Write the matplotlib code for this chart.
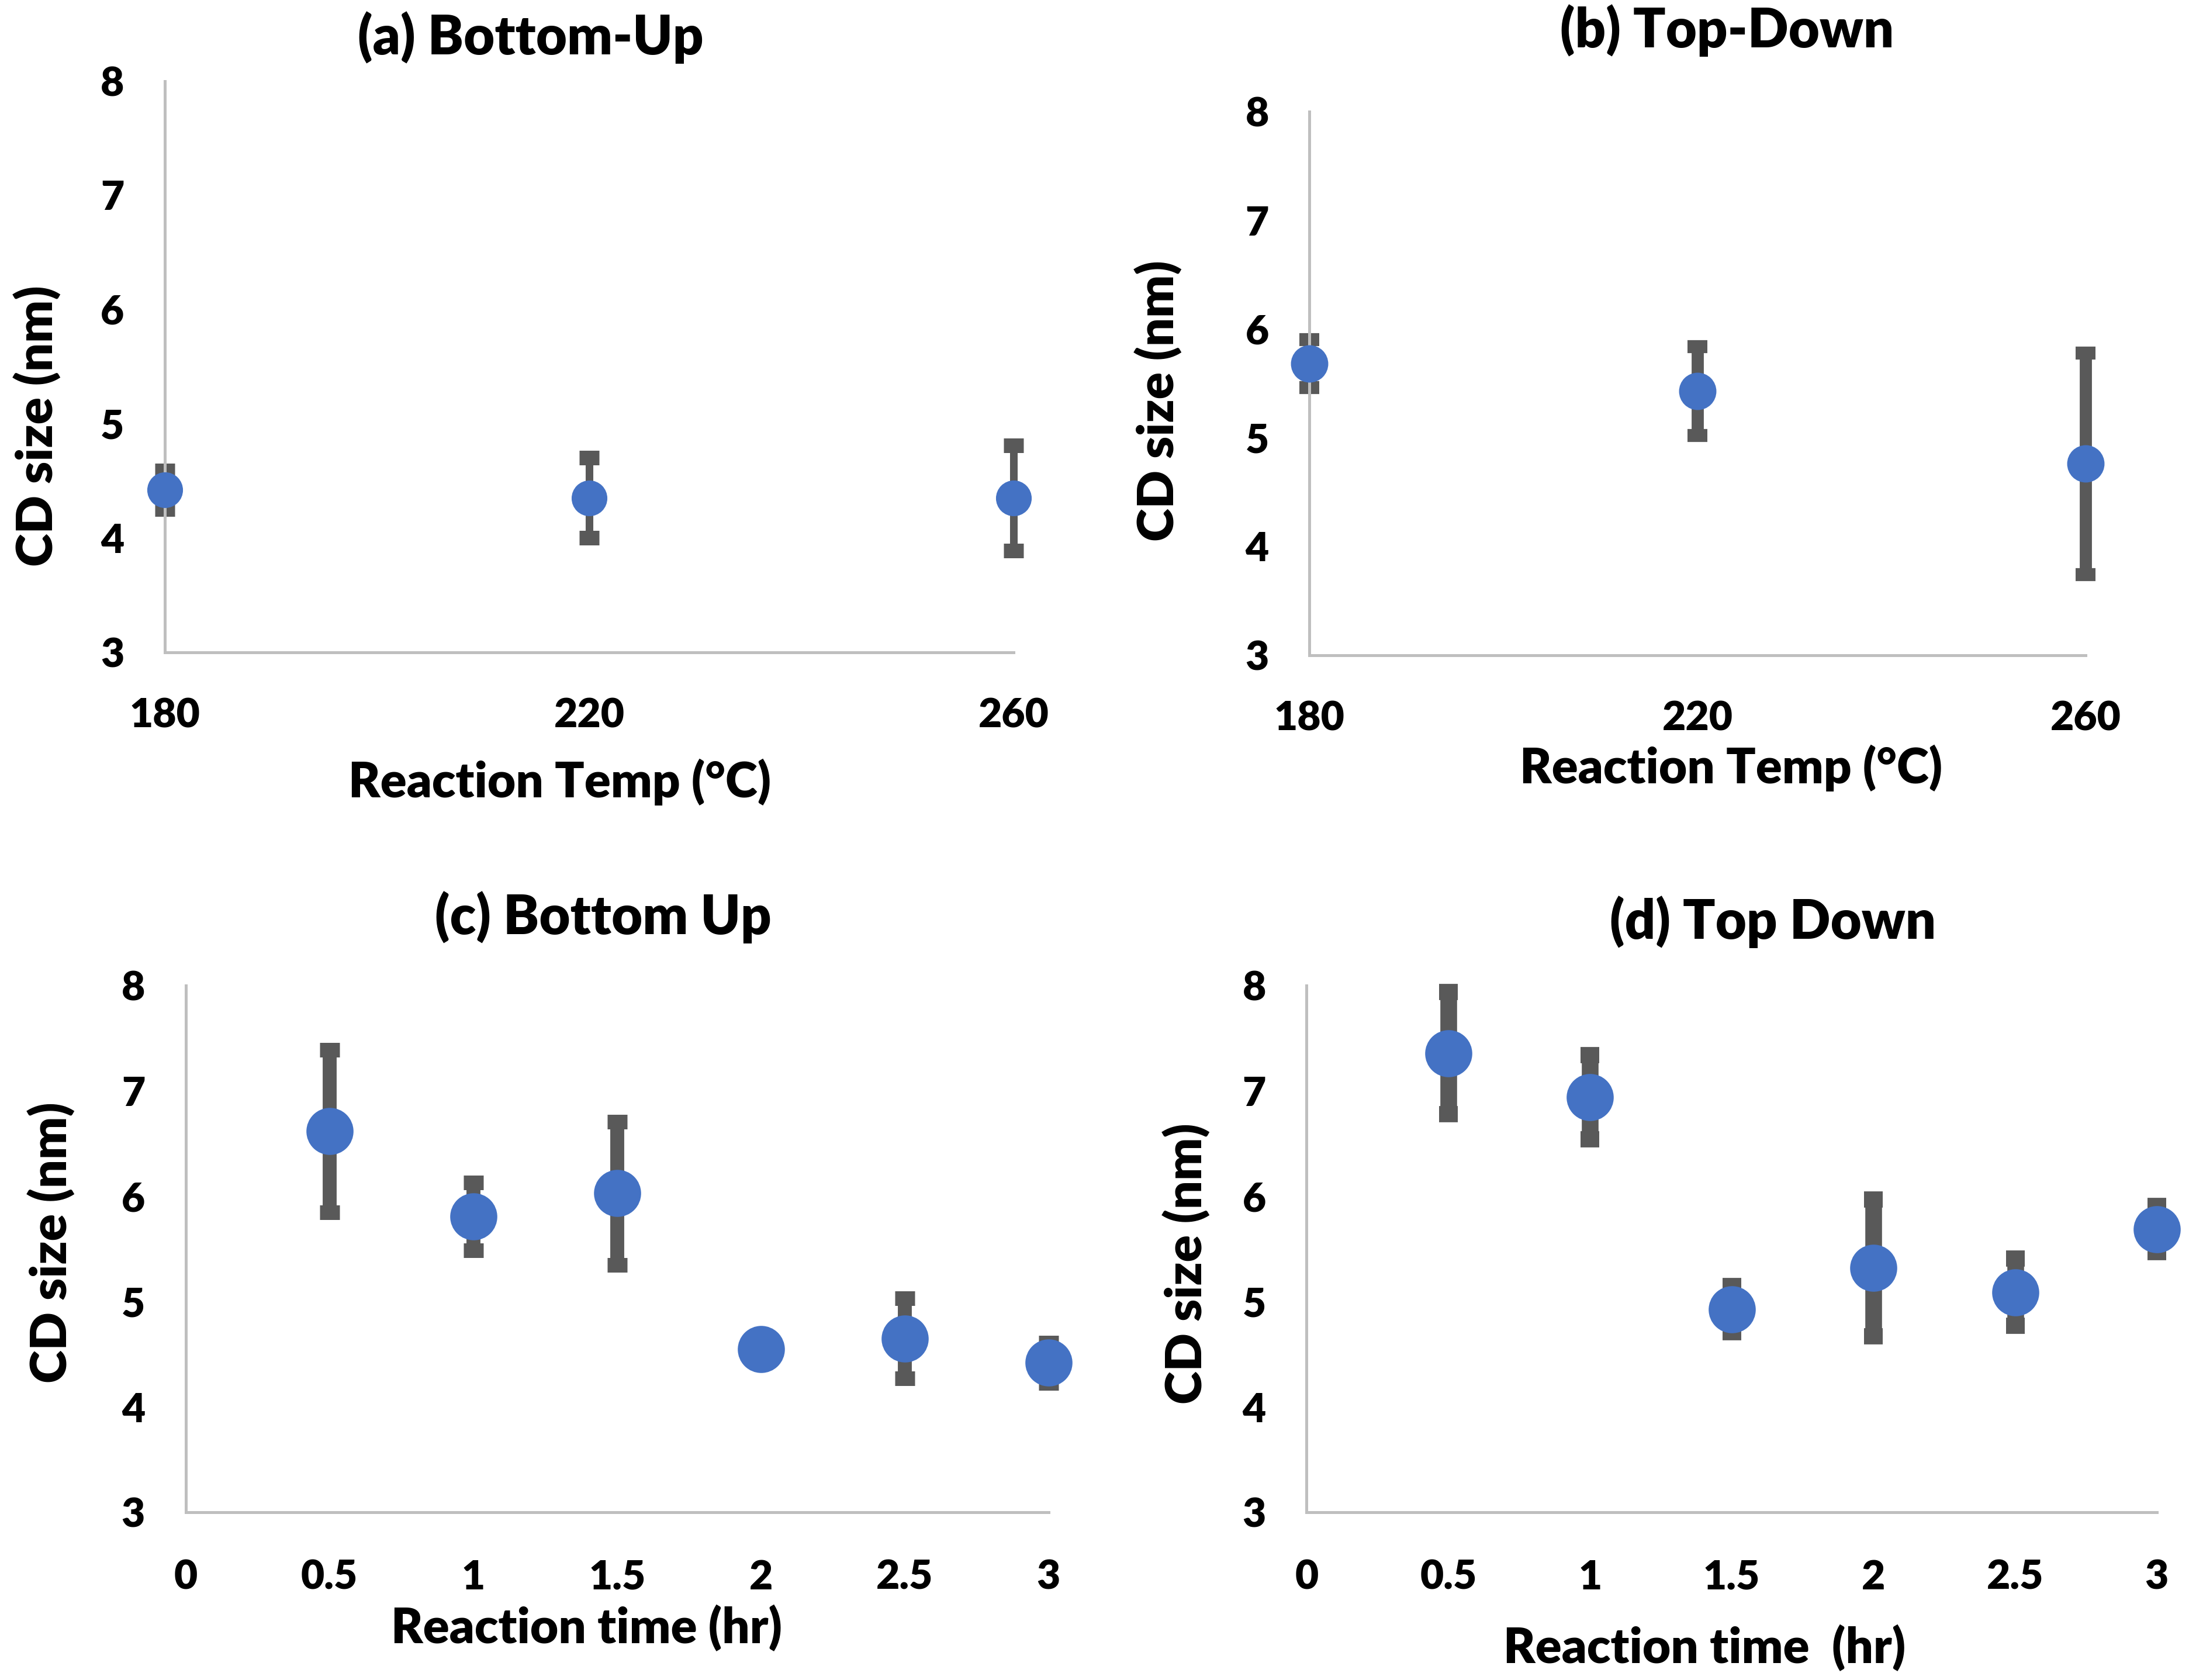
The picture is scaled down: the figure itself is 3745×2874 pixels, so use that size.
import matplotlib
matplotlib.use("Agg")
import matplotlib.pyplot as plt

plt.rcParams['font.family'] = ['Lato', 'DejaVu Sans']
plt.rcParams['font.weight'] = 'bold'

# ---------------- data ----------------
temp_x = [180, 220, 260]
bu_temp_size = [4.42, 4.35, 4.35]
bu_temp_err = [0.17, 0.35, 0.46]
td_temp_size = [5.68, 5.43, 4.76]
td_temp_err = [0.22, 0.41, 1.02]

time_x = [0.5, 1, 1.5, 2, 2.5, 3]
bu_time_size = [6.62, 5.81, 6.03, 4.55, 4.65, 4.42]
bu_time_err = [0.77, 0.32, 0.68, 0.12, 0.38, 0.19]
td_time_size = [7.36, 6.94, 4.93, 5.32, 5.09, 5.69]
td_time_err = [0.58, 0.40, 0.22, 0.65, 0.32, 0.22]

temp_ticks = [180, 220, 260]
time_ticks = [0, 0.5, 1, 1.5, 2, 2.5, 3]
time_ticklabels = ['0', '0.5', '1', '1.5', '2', '2.5', '3']
y_ticks = [3, 4, 5, 6, 7, 8]

titles = ['(a) Bottom-Up', '(b) Top-Down', '(c) Bottom Up', '(d) Top Down']
xlabels = ['Reaction Temp (°C)', 'Reaction Temp (°C)', 'Reaction time (hr)', 'Reaction time  (hr)']
ylabel = 'CD size (nm)'

# ---------------- style ----------------
W, H = 3745, 2874
DPI = 200
fig = plt.figure(figsize=(W / DPI, H / DPI), dpi=DPI)
fig.patch.set_facecolor('white')

blue = '#4472C4'
gray = '#595959'
spine_c = '#BFBFBF'

rects = [
    (0.0753, 0.6118, 0.3878, 0.3400),
    (0.5982, 0.6101, 0.3546, 0.3234),
    (0.0848, 0.0998, 0.3942, 0.3134),
    (0.5969, 0.0998, 0.3884, 0.3134),
]
title_pos = [(0.2423, 0.9776), (0.7889, 0.9817), (0.2755, 0.4539), (0.8099, 0.4514)]
xlabel_pos = [(0.2557, 0.5345), (0.7908, 0.5428), (0.2679, 0.0308), (0.7787, 0.0191)]
ylabel_pos = [(0.0172, 0.7465), (0.5293, 0.7614), (0.0236, 0.2602), (0.5421, 0.2477)]

styles = [
    dict(ms=21, elw=4.7, cs=6, ct=9),
    dict(ms=22, elw=7.5, cs=6, ct=8),
    dict(ms=28, elw=8.6, cs=6, ct=9),
    dict(ms=28, elw=10.3, cs=5.8, ct=10),
]

datasets = [
    (temp_x, bu_temp_size, bu_temp_err),
    (temp_x, td_temp_size, td_temp_err),
    (time_x, bu_time_size, bu_time_err),
    (time_x, td_time_size, td_time_err),
]

for i in range(4):
    ax = fig.add_axes(rects[i])
    xs, ys, es = datasets[i]
    st = styles[i]
    cont = ax.errorbar(xs, ys, yerr=es, fmt='none', ecolor=gray,
                       elinewidth=st['elw'], capsize=st['cs'], capthick=st['ct'],
                       zorder=2)
    for art in cont.lines[1] + cont.lines[2]:
        art.set_clip_on(False)
    ax.plot(xs, ys, 'o', color=blue, ms=st['ms'], mec=blue, zorder=3, clip_on=False)

    ax.set_ylim(3, 8)
    ax.set_yticks(y_ticks)
    if i < 2:
        ax.set_xlim(180, 260)
        ax.set_xticks(temp_ticks)
        ax.set_xticklabels([str(t) for t in temp_ticks])
    else:
        ax.set_xlim(0, 3)
        ax.set_xticks(time_ticks)
        ax.set_xticklabels(time_ticklabels)

    for s in ['top', 'right']:
        ax.spines[s].set_visible(False)
    for s in ['left', 'bottom']:
        ax.spines[s].set_color(spine_c)
        ax.spines[s].set_linewidth(1.8)
    ax.tick_params(axis='both', length=0, labelsize=25, colors='black')
    ax.tick_params(axis='y', pad=25)
    ax.tick_params(axis='x', pad=28 if i < 2 else 29)
    for lab in ax.get_xticklabels() + ax.get_yticklabels():
        lab.set_fontweight('heavy')
    ax.set_facecolor('none')

    fig.text(*title_pos[i], titles[i], ha='center', va='center', fontsize=33, fontweight='heavy')
    fig.text(*xlabel_pos[i], xlabels[i], ha='center', va='center', fontsize=30, fontweight='heavy')
    fig.text(*ylabel_pos[i], ylabel, ha='center', va='center', fontsize=31, fontweight='heavy',
             rotation=90)

fig.savefig('out.png', dpi=DPI, facecolor='white')
